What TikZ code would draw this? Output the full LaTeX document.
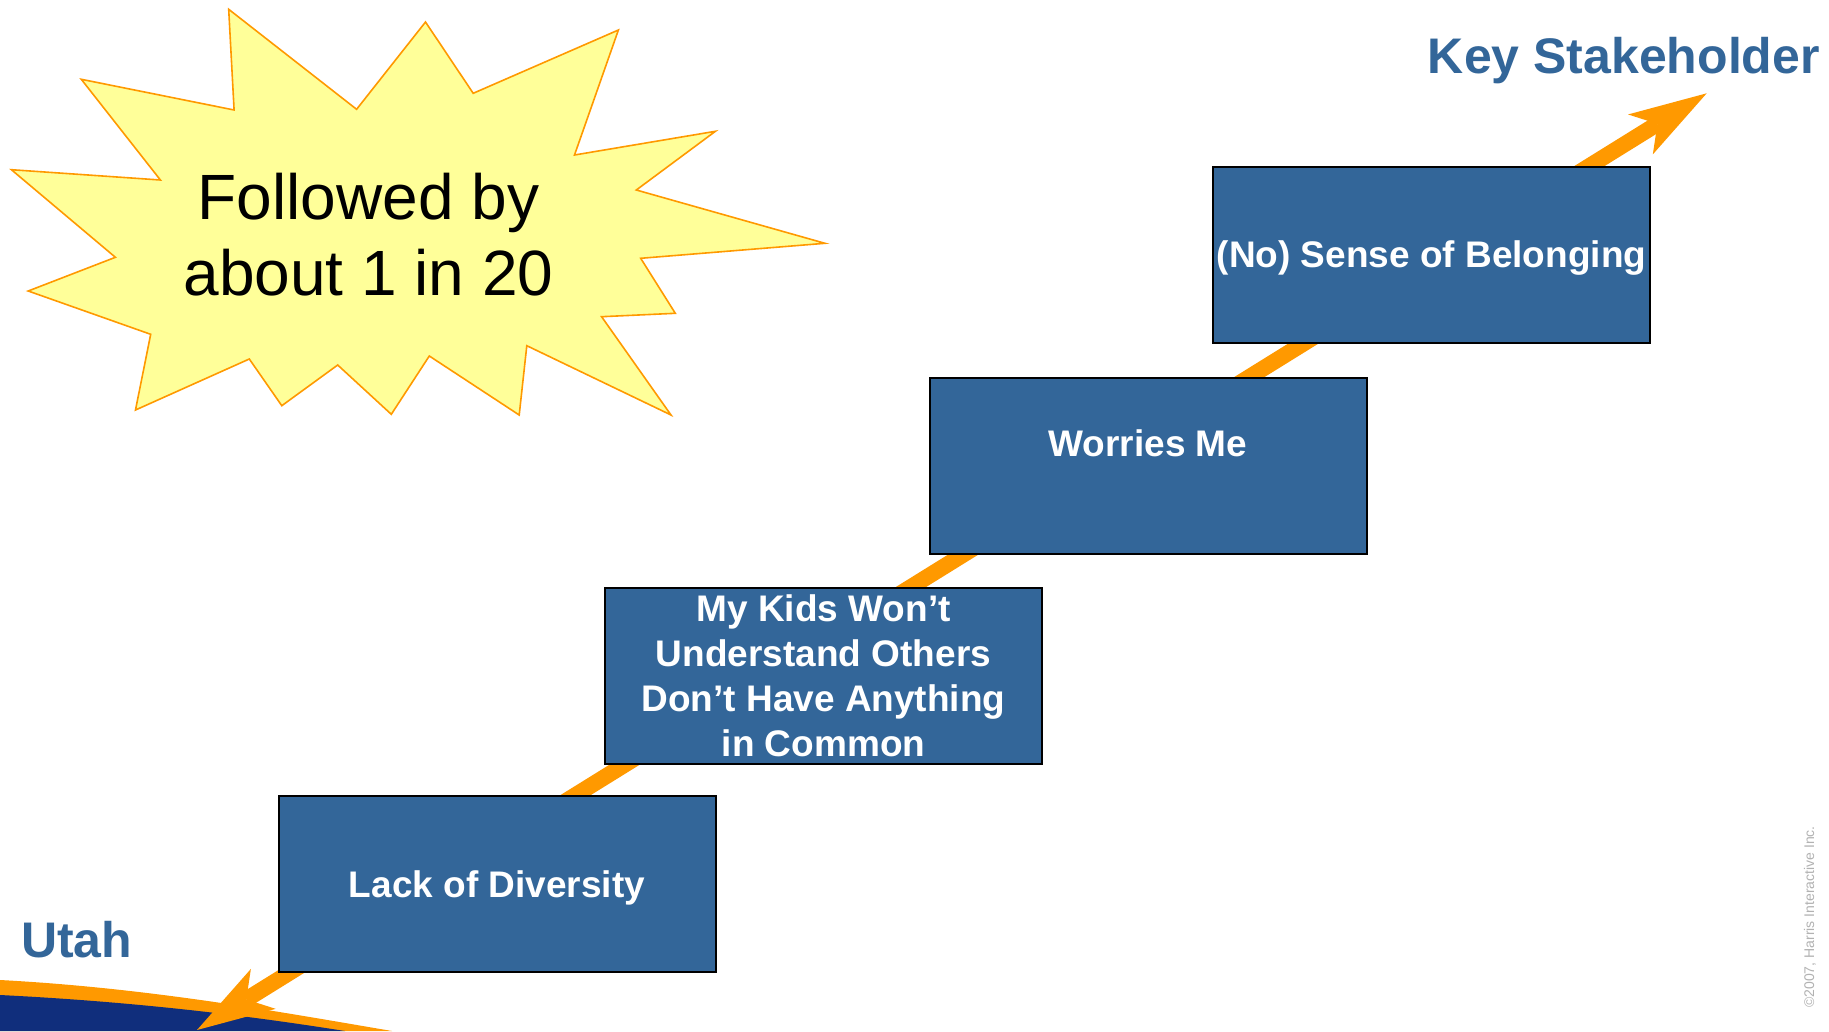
\documentclass[tikz,border=0pt]{standalone}
\usepackage{fontspec}
\setmainfont{Liberation Sans}
\usetikzlibrary{arrows.meta}
\definecolor{boxblue}{RGB}{51,102,153}
\definecolor{flow}{RGB}{255,153,0}
\definecolor{burst}{RGB}{255,255,153}
\definecolor{navy}{RGB}{16,46,124}
\definecolor{faint}{RGB}{178,178,178}

\begin{document}
\begin{tikzpicture}[x=1pt,y=-1pt,
  stepbox/.style={draw=black, line width=2pt, fill=boxblue, text=white,
    font=\fontsize{37}{45}\selectfont\bfseries, align=center, inner sep=0pt,
    minimum width=437pt, minimum height=176pt, anchor=north west},
  oneline/.style={text depth=0pt},
  headlabel/.style={text=boxblue, font=\fontsize{50}{60}\selectfont\bfseries, inner sep=0pt},
  flowtip/.tip={Stealth[length=78pt, width=47pt, inset=20pt, line width=0pt]},
  flowline/.style={draw=flow, line width=16pt, {flowtip}-{flowtip}},
  burstshape/.style={draw=flow, line width=1.6pt, fill=burst, line join=miter}
]
\useasboundingbox (0,0) rectangle (1829,1031);
\fill[white] (0,0) rectangle (1829,1031);

% swoosh in the lower left corner
\fill[flow] (0,980) .. controls (150,988) and (280,1012) .. (392,1031) -- (0,1031) -- cycle;
\fill[navy] (0,995) .. controls (140,1002) and (250,1016) .. (345,1031) -- (0,1031) -- cycle;

% end points of the rising arrow
\coordinate (lo) at (197,1030);
\coordinate (hi) at (1706.7,93.3);
\draw[flowline] (lo) -- (hi);

% the four steps
\node[stepbox, oneline] (s1) at (277.5,795) {Lack of Diversity};
\node[stepbox] (s2) at (604,587) {My Kids Won’t\\Understand Others\\Don’t Have Anything\\in Common};
\node[stepbox] (s3) at (928.5,377) {Worries Me\\\mbox{}};
\node[stepbox, oneline] (s4) at (1212,165.5) {(No) Sense of Belonging};

% starburst callout
\filldraw[burstshape] (228.7,9.3) -- (356.6,109.3) -- (425.5,22) -- (473.2,93.3)
  -- (618.4,30) -- (574.5,155) -- (715.4,131.3) -- (636.3,190) -- (824.9,243.3)
  -- (640.7,258.3) -- (675.3,313.3) -- (601.6,316.7) -- (671,415) -- (526.8,345.7)
  -- (519.2,415) -- (429.3,356) -- (391.3,414.3) -- (337.7,365) -- (281.8,405.7)
  -- (249.3,359) -- (135.5,410) -- (150.7,334.3) -- (28.2,291) -- (115.4,257.3)
  -- (11.4,169.7) -- (160.4,180) -- (81.3,79.3) -- (234.1,110) -- cycle;
\node[font=\fontsize{64}{76}\selectfont, align=center, inner sep=0pt] (note) at (368.5,235)
  {Followed by\\about 1 in 20};

% end labels
\node[headlabel, anchor=base east] (top) at (1820,73) {Key Stakeholder};
\node[headlabel, anchor=base west] (bottom) at (21,957) {Utah};

% copyright line
\node[rotate=90, text=faint, font=\fontsize{14}{16}\selectfont, inner sep=0pt] (copy) at (1810,917)
  {©2007, Harris Interactive Inc.};
\end{tikzpicture}
\end{document}
